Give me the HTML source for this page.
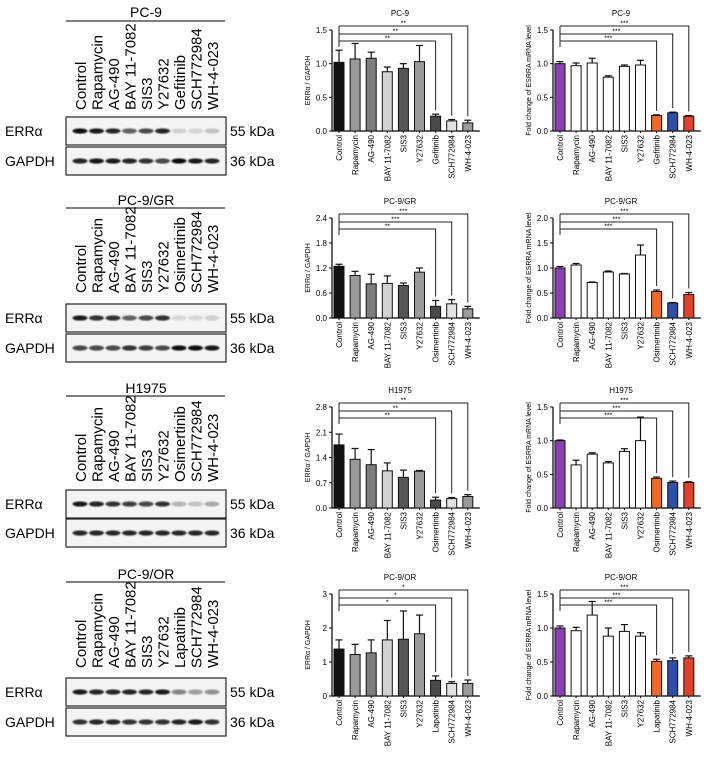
<!DOCTYPE html>
<html><head><meta charset="utf-8"><style>
body{margin:0;background:#fff}
svg{display:block;font-family:"Liberation Sans",Arial,sans-serif}
</style></head><body>
<svg id="fig" width="720" height="775" viewBox="0 0 720 775">
<defs><filter id="bl"><feGaussianBlur stdDeviation="0.9"/></filter></defs>
</svg>
<script>
const lanesBase = ["Control","Rapamycin","AG-490","BAY 11-7082","SIS3","Y27632"];
const drug7 = ["Gefitinib","Osimertinib","Osimertinib","Lapatinib"];
const tail = ["SCH772984","WH-4-023"];
const cellLines = ["PC-9","PC-9/GR","H1975","PC-9/OR"];
// western blot band intensities (0-1)
const errBands = [[.95,.9,.85,.6,.7,.85,.15,.12,.2],[.9,.8,.8,.6,.7,.8,.12,.12,.15],[.9,.85,.8,.75,.7,.8,.25,.2,.3],[.9,.85,.85,.85,.85,.9,.45,.35,.4]];
const gapBands = [[.85,.9,.9,.85,.8,.7,.95,.9,.85],[.7,.7,.7,.8,.75,.7,.95,.95,.9],[.85,.85,.85,.85,.85,.85,.85,.85,.85],[.8,.85,.85,.8,.8,.8,.85,.9,.8]];
// mid charts (ERRa / GAPDH)
const midMax = [1.5,2.4,2.8,3];
const midTicks = [[0,0.5,1.0,1.5],[0,0.6,1.2,1.8,2.4],[0,0.7,1.4,2.1,2.8],[0,1,2,3]];
const midTickLbl = [["0.0","0.5","1.0","1.5"],["0.0","0.6","1.2","1.8","2.4"],["0.0","0.7","1.4","2.1","2.8"],["0","1","2","3"]];
const midVals = [[1.02,1.07,1.08,0.88,0.93,1.03,0.22,0.15,0.12],[1.24,1.02,0.82,0.83,0.78,1.10,0.28,0.34,0.22],[1.75,1.35,1.20,1.03,0.85,1.02,0.22,0.26,0.32],[1.38,1.22,1.27,1.65,1.67,1.83,0.46,0.37,0.37]];
const midErrs = [[0.18,0.23,0.09,0.07,0.07,0.24,0.03,0.02,0.04],[0.05,0.10,0.23,0.18,0.06,0.10,0.14,0.10,0.06],[0.30,0.30,0.42,0.22,0.20,0.02,0.08,0.03,0.05],[0.27,0.30,0.38,0.57,0.83,0.55,0.13,0.05,0.10]];
const midSig = [["**","**","**"],["**","***","***"],["**","**","**"],["*","*","*"]];
// right charts (fold change)
const rMax = [1.5,2.0,1.5,1.5];
const rTicks = [[0,0.5,1.0,1.5],[0,0.5,1.0,1.5,2.0],[0,0.5,1.0,1.5],[0,0.5,1.0,1.5]];
const rTickLbl = [["0.0","0.5","1.0","1.5"],["0.0","0.5","1.0","1.5","2.0"],["0.0","0.5","1.0","1.5"],["0.0","0.5","1.0","1.5"]];
const rVals = [[1.0,0.97,1.01,0.80,0.96,0.98,0.23,0.27,0.22],[1.0,1.06,0.71,0.92,0.88,1.26,0.53,0.30,0.47],[1.0,0.64,0.80,0.67,0.84,1.0,0.44,0.38,0.38],[1.0,0.96,1.19,0.88,0.95,0.88,0.51,0.52,0.56]];
const rErrs = [[0.03,0.04,0.07,0.02,0.02,0.07,0.01,0.01,0.01],[0.03,0.03,0.01,0.02,0.01,0.20,0.03,0.01,0.04],[0.01,0.07,0.02,0.02,0.04,0.35,0.02,0.02,0.01],[0.03,0.05,0.20,0.12,0.10,0.05,0.03,0.04,0.03]];
const rSig = [["***","***","***"],["***","***","***"],["***","***","***"],["***","***","***"]];

const midColors = ["#111","#9a9a9a","#7d7d7d","#d2d2d2","#555","#9a9a9a","#4a4a4a","#e2e2e2","#9a9a9a"];
const rColors = ["#8a3fb5","#fff","#fff","#fff","#fff","#fff","#ef6a24","#2f4ea6","#e0432b"];

const plotTop=[30,218,407,594], plotBot=[131,318,508,696];
const blot = [{t:12,l:21,lb:110,e:117,g:147},{t:200,l:208,lb:293,e:304,g:334},{t:388,l:396,lb:482,e:490,g:519},{t:574,l:582,lb:668,e:678,g:708}];

const svg=document.getElementById('fig');
const NS="http://www.w3.org/2000/svg";
function el(tag,attrs,parent,txt){const e=document.createElementNS(NS,tag);for(const k in attrs)e.setAttribute(k,attrs[k]);if(txt!==undefined)e.textContent=txt;(parent||svg).appendChild(e);return e;}

function drawBlot(r){
  const b=blot[r];
  const g=el('g',{});
  
  
  const lanes=lanesBase.concat([drug7[r]],tail);
  const t=el('text',{x:146,y:b.t+5,'text-anchor':'middle','font-size':14},g,cellLines[r]);
  
  
  el('line',{x1:66,x2:225,y1:b.l,y2:b.l,stroke:'#333','stroke-width':1.3},g);
  lanes.forEach((n,i)=>{
    const x=80+i*16.5;
    const tx=el('text',{x:0,y:0,'font-size':15,'text-anchor':'start',transform:`translate(${x+6},${b.lb}) rotate(-90)`},g,n);
    
    
  });
  [[b.e,errBands[r],'ERRα','55 kDa'],[b.g,gapBands[r],'GAPDH','36 kDa']].forEach(([y,bands,name,kd])=>{
    const h=28;
    el('rect',{x:66,y:y,width:160,height:h,fill:'#f4f4f4',stroke:'#222','stroke-width':1.2},g);
    bands.forEach((v,i)=>{
      const x=80+i*16.5;
      el('ellipse',{cx:x,cy:y+h/2,rx:7.5,ry:2.6,fill:'#000','fill-opacity':v,filter:'url(#bl)'},g);
    });
    const lt=el('text',{x:5,y:y+h/2+5,'font-size':14},g,name);
    
    
    const kt=el('text',{x:230,y:y+h/2+5,'font-size':14},g,kd);
    
    
  });
}

function drawChart(r,ax,max,ticks,tickLbl,vals,errs,colors,sig,ylabel,name){
  const top=plotTop[r],bot=plotBot[r];
  const g=el('g',{});
  
  
  const y=v=>bot-(v/max)*(bot-top);
  const xc=i=>ax+7+i*16.1;
  const lanes=lanesBase.concat([drug7[r]],tail);
  const tt=el('text',{x:ax+68,y:top-14,'text-anchor':'middle','font-size':8},g,cellLines[r]);
  
  
  el('line',{x1:ax,x2:ax,y1:top,y2:bot,stroke:'#000','stroke-width':1.2},g);
  el('line',{x1:ax,x2:xc(8)+12,y1:bot,y2:bot,stroke:'#000','stroke-width':1.2},g);
  ticks.forEach((t,i)=>{
    el('line',{x1:ax-3,x2:ax,y1:y(t),y2:y(t),stroke:'#000','stroke-width':1},g);
    const lt=el('text',{x:ax-5,y:y(t)+3,'text-anchor':'end','font-size':8},g,tickLbl[i]);
    
    
  });
  const yl=el('text',{x:0,y:0,'font-size':7,'text-anchor':'middle',transform:`translate(${ax-22},${(top+bot)/2}) rotate(-90)`},g,ylabel);
  
  
  vals.forEach((v,i)=>{
    const x=xc(i);
    const et=y(v+errs[i]);
    el('line',{x1:x,x2:x,y1:y(v),y2:et,stroke:'#111','stroke-width':1.2},g);
    el('line',{x1:x-3.5,x2:x+3.5,y1:et,y2:et,stroke:'#111','stroke-width':1.2},g);
    const bar=el('rect',{x:x-5,y:y(v),width:10,height:bot-y(v),fill:colors[i],stroke:'#111','stroke-width':1},g);
    
    
    const xl=el('text',{x:0,y:0,'font-size':8,'text-anchor':'end',transform:`translate(${x+3},${bot+4}) rotate(-90)`},g,lanes[i]);
    
    
    el('line',{x1:x,x2:x,y1:bot,y2:bot+2,stroke:'#000'},g);
  });
  // significance brackets (bottom to top for lanes 6,7,8)
  const ly=[top+11,top+4,top-4];
  el('line',{x1:xc(0),x2:xc(0),y1:ly[2],y2:top+17,stroke:'#222','stroke-width':1},g);
  [6,7,8].forEach((li,k)=>{
    const yy=ly[k];
    const endY=y(vals[li]+errs[li])-4;
    el('polyline',{points:`${xc(0)},${yy} ${xc(li)},${yy} ${xc(li)},${endY}`,fill:'none',stroke:'#222','stroke-width':1},g);
    const st=el('text',{x:(xc(0)+xc(li))/2,y:yy-0.5,'text-anchor':'middle','font-size':7},g,sig[k]);
    
    
  });
}

for(let r=0;r<4;r++){
  drawBlot(r);
  drawChart(r,332,midMax[r],midTicks[r],midTickLbl[r],midVals[r],midErrs[r],midColors,midSig[r],'ERRα / GAPDH','errα-gapdh-chart-'+r);
  drawChart(r,553,rMax[r],rTicks[r],rTickLbl[r],rVals[r],rErrs[r],rColors,rSig[r],'Fold change of ESRRA mRNA level','esrra-mrna-chart-'+r);
}
</script>
</body></html>
